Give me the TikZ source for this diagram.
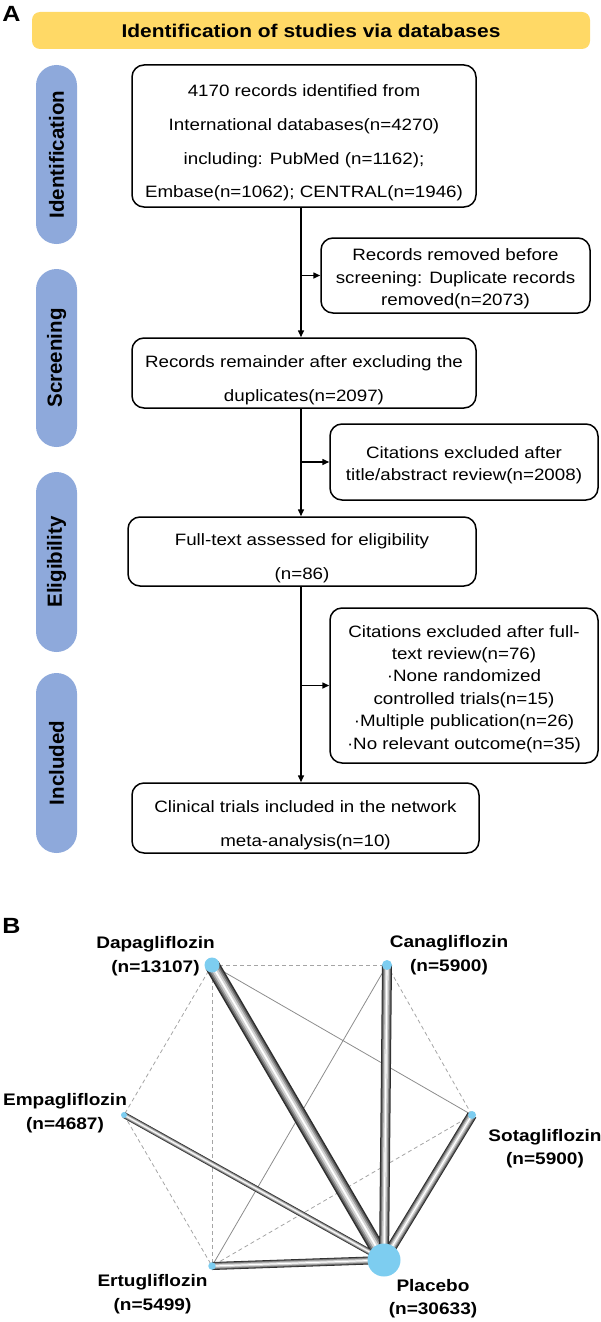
\documentclass[tikz,border=0pt]{standalone}
\usepackage{fontspec}
\setmainfont{Liberation Sans}
\newfontfamily\fs[FakeStretch=1.14]{Liberation Sans}
\newfontfamily\fp{Liberation Sans}
\usetikzlibrary{arrows.meta}
\pgfdeclarelayer{bglayer}
\pgfsetlayers{bglayer,main}
\definecolor{bannerc}{RGB}{255,217,102}
\definecolor{pillc}{RGB}{142,169,219}
\definecolor{nodeb}{RGB}{125,205,240}
\definecolor{tA}{RGB}{45,45,45}
\definecolor{tB}{RGB}{100,100,100}
\definecolor{tC}{RGB}{155,155,155}
\definecolor{tD}{RGB}{210,210,210}
\definecolor{dgray}{RGB}{165,165,165}
\definecolor{sgray}{RGB}{140,140,140}
\newcommand{\bigstrutx}{\rule{0pt}{26pt}}
\newcommand{\smallstrutx}{\rule{0pt}{18.5pt}}
\begin{document}
\begin{tikzpicture}[x=1pt,y=-1pt,
  boxa/.style={draw=black, line width=1.5pt, rounded corners=12pt, align=center, inner sep=0pt,
    font=\fs\fontsize{16.45}{33.7}\selectfont},
  boxb/.style={draw=black, line width=1.5pt, rounded corners=12pt, align=center, inner sep=0pt,
    font=\fs\fontsize{16.45}{22.4}\selectfont},
  pill/.style={fill=pillc, rounded corners=20.5pt, inner sep=0pt, rotate=90,
    minimum height=41pt, font=\fp\bfseries\fontsize{20.5}{24}\selectfont},
  arr/.style={line width=1.5pt, -{Triangle[length=7pt,width=6pt]}},
  circ/.style={circle, fill=nodeb, inner sep=0pt},
  lab/.style={align=center, inner sep=0pt, font=\fs\bfseries\fontsize{16.7}{23.5}\selectfont},
  dashln/.style={draw=dgray, line width=0.8pt, dash pattern=on 4pt off 3pt},
  thinln/.style={draw=sgray, line width=0.8pt},
  tube/.style={draw=white, line width=0.12*#1,
    preaction={draw=tA, line width=#1},
    preaction={draw=tB, line width=0.8*#1},
    preaction={draw=tC, line width=0.6*#1},
    preaction={draw=tD, line width=0.38*#1}},
  plabel/.style={inner sep=0pt, font=\fs\bfseries\fontsize{22}{22}\selectfont}
]
\useasboundingbox (0,0) rectangle (600,1322);

% ---------- Panel A ----------
\node[plabel] (la) at (11.5,14) {A};
\node[fill=bannerc, rounded corners=8pt, minimum width=558pt, minimum height=37pt, inner sep=0pt,
  font=\fs\bfseries\fontsize{18.4}{22}\selectfont] (ban) at (311,30.5) {Identification of studies via databases};

\node[pill, minimum width=179pt] (p1) at (56.5,154.5) {Identification};
\node[pill, minimum width=178pt] (p2) at (56.5,358) {Screening};
\node[pill, minimum width=180pt] (p3) at (56.5,562) {Eligibility};
\node[pill, minimum width=180pt] (p4) at (56.5,763) {Included};

\node[boxa, minimum width=344pt, minimum height=142pt] (b1) at (304,136)
  {\bigstrutx 4170 records identified from\\International databases(n=4270)\\including: PubMed (n=1162);\\Embase(n=1062); CENTRAL(n=1946)};
\node[boxb, minimum width=269pt, minimum height=75pt] (b2) at (455.5,275.5)
  {\smallstrutx Records removed before\\screening: Duplicate records\\removed(n=2073)};
\node[boxa, minimum width=344pt, minimum height=70pt] (b3) at (304,373)
  {\bigstrutx Records remainder after excluding the\\duplicates(n=2097)};
\node[boxb, minimum width=268pt, minimum height=76pt] (b4) at (464,462)
  {\smallstrutx Citations excluded after\\title/abstract review(n=2008)};
\node[boxa, minimum width=348pt, minimum height=69pt] (b5) at (302,551.5)
  {\bigstrutx Full-text assessed for eligibility\\(n=86)};
\node[boxb, minimum width=268pt, minimum height=155pt] (b6) at (464,685.5)
  {\smallstrutx Citations excluded after full-\\text review(n=76)\\·None randomized\\controlled trials(n=15)\\·Multiple publication(n=26)\\·No relevant outcome(n=35)};
\node[boxa, minimum width=347pt, minimum height=70pt] (b7) at (305.5,818)
  {\bigstrutx Clinical trials included in the network\\meta-analysis(n=10)};

\coordinate (sx) at (301,0);
\draw[arr] (b1.south -| sx) -- (b3.north -| sx);
\draw[arr] (b3.south -| sx) -- (b5.north -| sx);
\draw[arr] (b5.south -| sx) -- (b7.north -| sx);
\draw[arr] (sx |- b2.west) -- (b2.west);
\draw[arr] (sx |- b4.west) -- (b4.west);
\draw[arr] (sx |- b6.west) -- (b6.west);

% ---------- Panel B ----------
\node[plabel] (lb) at (11.5,926) {B};

\node[circ, minimum size=15pt] (dapa) at (212,965) {};
\node[circ, minimum size=10pt] (cana) at (387,965) {};
\node[circ, minimum size=6pt] (empa) at (124,1115) {};
\node[circ, minimum size=8pt] (soto) at (472,1115) {};
\node[circ, minimum size=7.5pt] (ertu) at (212,1266) {};
\node[circ, minimum size=33pt] (plac) at (384,1260) {};

\begin{pgfonlayer}{bglayer}
\draw[dashln] (dapa.center) -- (cana.center);
\draw[dashln] (dapa.center) -- (empa.center);
\draw[dashln] (dapa.center) -- (ertu.center);
\draw[thinln] (dapa.center) -- (soto.center);
\draw[dashln] (cana.center) -- (soto.center);
\draw[thinln] (cana.center) -- (ertu.center);
\draw[dashln] (empa.center) -- (ertu.center);
\draw[dashln] (soto.center) -- (ertu.center);
\draw[tube=15] (dapa.center) -- (plac.center);
\draw[tube=10] (cana.center) -- (plac.center);
\draw[tube=10] (soto.center) -- (plac.center);
\draw[tube=6] (empa.center) -- (plac.center);
\draw[tube=8] (ertu.center) -- (plac.center);
\end{pgfonlayer}

\node[lab] (ldapa) at (155.5,956) {Dapagliflozin\\(n=13107)};
\node[lab] (lcana) at (449,955) {Canagliflozin\\(n=5900)};
\node[lab] (lempa) at (65,1113) {Empagliflozin\\(n=4687)};
\node[lab] (lsoto) at (545,1148.5) {Sotagliflozin\\(n=5900)};
\node[lab] (lertu) at (152.5,1294) {Ertugliflozin\\(n=5499)};
\node[lab] (lplac) at (433,1298.5) {Placebo\\(n=30633)};
\end{tikzpicture}
\end{document}
